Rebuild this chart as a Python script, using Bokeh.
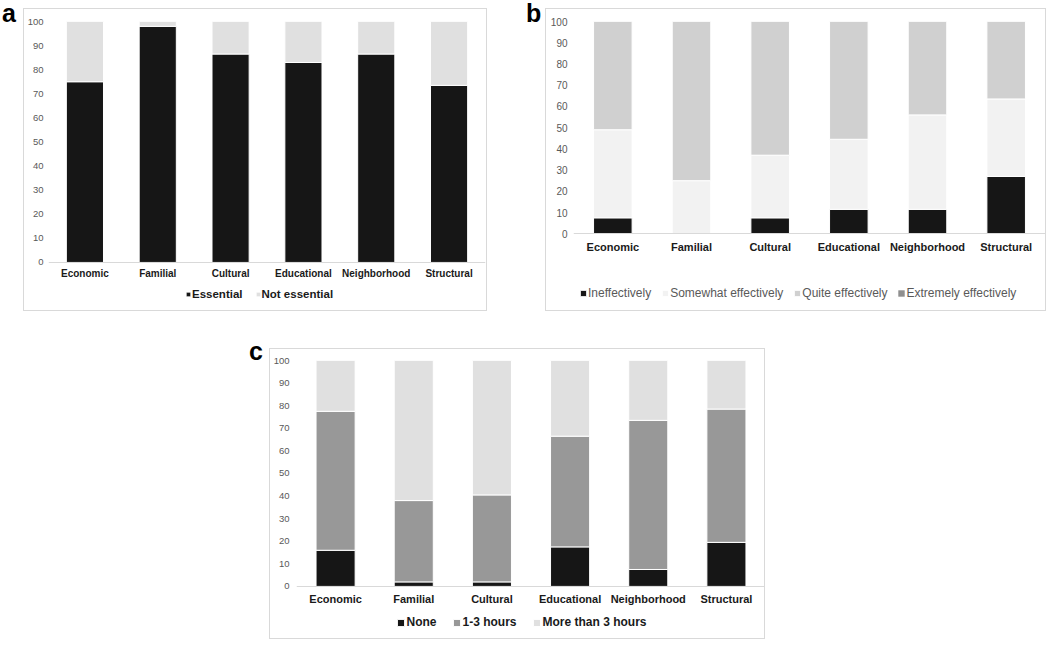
from bokeh.plotting import figure
from bokeh.models import (FactorRange, Range1d, FixedTicker, Legend, LegendItem,
                          Div, Spacer, ColumnDataSource)
from bokeh.layouts import row, column
from bokeh.embed import file_html
from bokeh.resources import INLINE

# ---------------- data ----------------
categories = ["Economic", "Familial", "Cultural", "Educational", "Neighborhood", "Structural"]
y_ticks = [0, 10, 20, 30, 40, 50, 60, 70, 80, 90, 100]

a_labels = ["Essential", "Not essential"]
a_essential = [75, 98, 86.5, 83, 86.5, 73.5]
a_not_essential = [25, 2, 13.5, 17, 13.5, 26.5]

b_labels = ["Ineffectively", "Somewhat effectively", "Quite effectively", "Extremely effectively"]
b_ineffectively = [7.5, 0, 7.5, 11.5, 11.5, 27]
b_somewhat = [41.5, 25, 29.5, 33, 44.5, 36.5]
b_quite = [51, 75, 63, 55.5, 44, 36.5]
b_extremely = [0, 0, 0, 0, 0, 0]

c_labels = ["None", "1-3 hours", "More than 3 hours"]
c_none = [16, 2, 2, 17.5, 7.5, 19.5]
c_1_3 = [61.5, 36, 38.5, 49, 66, 59]
c_more = [22.5, 62, 59.5, 33.5, 26.5, 21.5]

FONT = "Liberation Sans"


def base_fig(width, height, left, right, top, plot_px, below_px, tick_size, tick_standoff,
             cat_size, cat_standoff):
    # plot_px: pixel height of the 0..100 span; below_px: pixels of frame below value 0
    y0 = -100.0 * below_px / plot_px
    p = figure(x_range=FactorRange(factors=categories), y_range=Range1d(y0, 100),
               width=width, height=height, output_backend="svg", toolbar_location=None,
               min_border_left=left, min_border_right=right, min_border_top=top,
               min_border_bottom=0, outline_line_color=None,
               background_fill_color="white", border_fill_color="white",
               styles={"border": "1px solid #d9d9d9"}, margin=0)
    p.xgrid.visible = False
    p.ygrid.visible = False
    p.yaxis.ticker = FixedTicker(ticks=y_ticks)
    p.yaxis.axis_line_color = None
    p.yaxis.major_tick_line_color = None
    p.yaxis.minor_tick_line_color = None
    p.yaxis.major_tick_out = 0
    p.yaxis.major_tick_in = 0
    p.yaxis.minor_tick_out = 0
    p.yaxis.major_label_standoff = tick_standoff
    p.yaxis.major_label_text_font = FONT
    p.yaxis.major_label_text_font_size = tick_size
    p.yaxis.major_label_text_color = "#595959"
    p.xaxis.fixed_location = 0
    p.xaxis.axis_line_color = "#d9d9d9"
    p.xaxis.axis_line_width = 1
    p.xaxis.major_tick_line_color = None
    p.xaxis.minor_tick_line_color = None
    p.xaxis.major_tick_out = 0
    p.xaxis.major_tick_in = 0
    p.xaxis.major_label_standoff = cat_standoff
    p.xaxis.major_label_text_font = FONT
    p.xaxis.major_label_text_font_size = cat_size
    p.xaxis.major_label_text_font_style = "bold"
    p.xaxis.major_label_text_color = "#1a1a1a"
    return p


def add_legend(p, labels, renderers, loc, size, style, color, spacing, standoff, glyph):
    leg = Legend(items=[LegendItem(label=l, renderers=[r]) for l, r in zip(labels, renderers)],
                 orientation="horizontal", location=loc, padding=0, margin=0,
                 spacing=spacing, glyph_width=glyph, glyph_height=glyph, label_standoff=standoff,
                 label_height=14, label_text_font=FONT, label_text_font_size=size,
                 label_text_font_style=style, label_text_color=color,
                 border_line_color=None, background_fill_alpha=0)
    p.add_layout(leg)


# ---------------- panel a ----------------
pa = base_fig(464, 303, 24, 3, 10, 240.7, 50, "9.5px", 5, "10px", 6)
src_a = ColumnDataSource(dict(cat=categories, s1=a_essential, s2=a_not_essential))
ra = pa.vbar_stack(["s1", "s2"], x="cat", width=0.51, source=src_a,
                   fill_color=["#161616", "#e0e0e0"], line_color="white", line_width=1)
add_legend(pa, a_labels, ra, (137, 11), "11.5px", "bold", "#1a1a1a", 12, 1, 6)

# ---------------- panel b ----------------
pb = base_fig(501, 303, 27, 2, 12, 211, 78.3, "10px", 6, "11px", 7)
src_b = ColumnDataSource(dict(cat=categories, s1=b_ineffectively, s2=b_somewhat,
                              s3=b_quite, s4=b_extremely))
rb = pb.vbar_stack(["s1", "s2", "s3", "s4"], x="cat", width=0.49, source=src_b,
                   fill_color=["#161616", "#f2f2f2", "#d0d0d0", "#8f8f8f"],
                   line_color="white", line_width=1, line_alpha=[1, 1, 1, 0])
add_legend(pb, b_labels, rb, (6, 12), "12px", "normal", "#595959", 10, 1, 8)

# ---------------- panel c ----------------
pc = base_fig(496, 291, 26, 1, 11, 224.3, 53.7, "9.5px", 7, "11px", 7)
src_c = ColumnDataSource(dict(cat=categories, s1=c_none, s2=c_1_3, s3=c_more))
rc = pc.vbar_stack(["s1", "s2", "s3"], x="cat", width=0.5, source=src_c,
                   fill_color=["#161616", "#989898", "#e0e0e0"], line_color="white", line_width=1)
add_legend(pc, c_labels, rc, (99.5, 11), "12px", "bold", "#1a1a1a", 15, 2, 9)


def letter(ch, w, dx, dy):
    html = (f'<div style="position:relative;left:{dx}px;top:{dy}px;'
            f"font-family:'Liberation Sans';font-weight:bold;font-size:25px;"
            f'line-height:25px;color:#000">{ch}</div>')
    return Div(text=html, width=w, height=30, margin=0)


row1 = row(letter("a", 23, 2, -7), pa, Spacer(width=40, height=10, margin=0),
           letter("b", 18, -1, -7), pb, spacing=0)
row2 = row(Spacer(width=248, height=10, margin=0), letter("c", 21, 1, -9), pc, spacing=0)
layout = column(Spacer(width=10, height=8, margin=0), row1,
                Spacer(width=10, height=37, margin=0), row2, spacing=0)

open("out.html", "w").write(file_html(layout, INLINE))
